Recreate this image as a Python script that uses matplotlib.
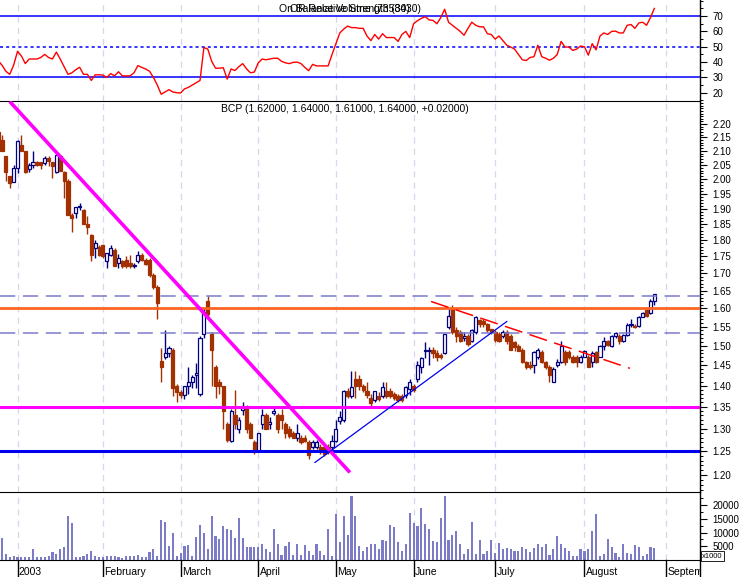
import matplotlib
matplotlib.use('Agg')
import matplotlib.pyplot as plt
import numpy as np
from matplotlib.ticker import FixedLocator, NullFormatter, FuncFormatter, MultipleLocator

plt.rcParams['font.family'] = ['Liberation Sans', 'DejaVu Sans']

# ---------------- data ----------------
opens = [2.17, 2.14, 2.08, 2.01, 1.99, 2.04, 2.12, 2.10, 2.035, 2.05,
         2.06, 2.06, 2.055, 2.075, 2.06, 2.025, 2.08, 2.025, 1.995, 1.88,
         1.885, 1.905, 1.895, 1.85, 1.815, 1.775, 1.78, 1.785, 1.735, 1.755,
         1.77, 1.73, 1.735, 1.74, 1.73, 1.72, 1.735, 1.755, 1.74, 1.74,
         1.695, 1.66, 1.46, 1.47, 1.48, 1.49, 1.40, 1.385, 1.378, 1.398,
         1.41, 1.425, 1.38, 1.53, 1.62, 1.53, 1.445, 1.41, 1.40, 1.31,
         1.273, 1.33, 1.30, 1.343, 1.35, 1.31, 1.27, 1.25, 1.31, 1.33,
         1.31, 1.335, 1.33, 1.33, 1.31, 1.30, 1.29, 1.28, 1.28, 1.28,
         1.27, 1.26, 1.26, 1.26, 1.26, 1.26, 1.26, 1.273, 1.316, 1.32,
         1.386, 1.376, 1.416, 1.415, 1.40, 1.386, 1.37, 1.366, 1.376, 1.376,
         1.387, 1.387, 1.38, 1.376, 1.375, 1.378, 1.393, 1.40, 1.416, 1.446,
         1.485, 1.485, 1.49, 1.48, 1.475, 1.48, 1.55, 1.60, 1.54, 1.535,
         1.52, 1.525, 1.513, 1.535, 1.567, 1.565, 1.556, 1.543, 1.535, 1.53,
         1.524, 1.535, 1.525, 1.51, 1.50, 1.49, 1.458, 1.45, 1.452, 1.472,
         1.483, 1.458, 1.447, 1.41, 1.45, 1.458, 1.483, 1.483, 1.472, 1.47,
         1.458, 1.472, 1.472, 1.458, 1.483, 1.472, 1.50, 1.512, 1.50, 1.525,
         1.525, 1.512, 1.527, 1.555, 1.553, 1.553, 1.576, 1.594, 1.588, 1.62]
highs = [2.22, 2.16, 2.08, 2.01, 2.05, 2.14, 2.16, 2.10, 2.055, 2.10,
         2.065, 2.06, 2.08, 2.08, 2.06, 2.085, 2.085, 2.03, 2.00, 1.885,
         1.905, 1.92, 1.90, 1.875, 1.82, 1.80, 1.785, 1.785, 1.76, 1.785,
         1.775, 1.757, 1.74, 1.75, 1.755, 1.73, 1.765, 1.76, 1.745, 1.745,
         1.70, 1.665, 1.495, 1.54, 1.50, 1.495, 1.405, 1.39, 1.40, 1.445,
         1.425, 1.455, 1.525, 1.60, 1.635, 1.535, 1.45, 1.415, 1.40, 1.315,
         1.345, 1.39, 1.325, 1.36, 1.355, 1.315, 1.275, 1.29, 1.345, 1.335,
         1.325, 1.35, 1.335, 1.345, 1.315, 1.305, 1.295, 1.31, 1.285, 1.285,
         1.275, 1.275, 1.275, 1.265, 1.265, 1.265, 1.285, 1.32, 1.34, 1.39,
         1.395, 1.435, 1.435, 1.425, 1.405, 1.41, 1.38, 1.386, 1.385, 1.41,
         1.41, 1.395, 1.385, 1.38, 1.38, 1.40, 1.415, 1.405, 1.46, 1.47,
         1.51, 1.497, 1.497, 1.49, 1.48, 1.53, 1.60, 1.61, 1.55, 1.54,
         1.535, 1.53, 1.545, 1.58, 1.57, 1.57, 1.56, 1.545, 1.54, 1.535,
         1.54, 1.54, 1.53, 1.513, 1.505, 1.495, 1.46, 1.46, 1.487, 1.495,
         1.49, 1.46, 1.45, 1.445, 1.465, 1.513, 1.49, 1.49, 1.475, 1.475,
         1.475, 1.49, 1.475, 1.486, 1.487, 1.502, 1.522, 1.515, 1.527, 1.535,
         1.53, 1.53, 1.56, 1.57, 1.557, 1.578, 1.59, 1.60, 1.625, 1.64]
lows = [2.14, 2.10, 1.995, 1.97, 1.99, 2.02, 2.10, 2.02, 2.025, 2.04,
        2.045, 2.035, 2.05, 2.045, 2.005, 2.02, 2.03, 1.935, 1.88, 1.825,
        1.87, 1.895, 1.85, 1.82, 1.735, 1.745, 1.75, 1.745, 1.715, 1.75,
        1.72, 1.715, 1.715, 1.715, 1.715, 1.715, 1.73, 1.735, 1.725, 1.69,
        1.655, 1.57, 1.41, 1.465, 1.47, 1.375, 1.36, 1.37, 1.368, 1.38,
        1.395, 1.395, 1.375, 1.52, 1.57, 1.40, 1.37, 1.38, 1.30, 1.27,
        1.27, 1.30, 1.29, 1.33, 1.29, 1.28, 1.245, 1.25, 1.30, 1.30,
        1.30, 1.33, 1.29, 1.30, 1.28, 1.278, 1.278, 1.273, 1.265, 1.27,
        1.233, 1.255, 1.255, 1.245, 1.24, 1.245, 1.25, 1.27, 1.31, 1.315,
        1.37, 1.37, 1.37, 1.39, 1.385, 1.37, 1.352, 1.36, 1.364, 1.37,
        1.37, 1.37, 1.365, 1.36, 1.36, 1.37, 1.378, 1.385, 1.41, 1.43,
        1.468, 1.452, 1.468, 1.46, 1.465, 1.478, 1.545, 1.53, 1.51, 1.51,
        1.513, 1.50, 1.51, 1.53, 1.55, 1.55, 1.535, 1.53, 1.51, 1.51,
        1.52, 1.505, 1.49, 1.487, 1.485, 1.455, 1.44, 1.44, 1.43, 1.465,
        1.455, 1.44, 1.41, 1.408, 1.445, 1.455, 1.45, 1.465, 1.455, 1.447,
        1.455, 1.47, 1.445, 1.447, 1.455, 1.47, 1.49, 1.50, 1.497, 1.52,
        1.505, 1.51, 1.525, 1.55, 1.547, 1.55, 1.575, 1.575, 1.585, 1.61]
closes = [2.14, 2.10, 2.025, 1.985, 2.04, 2.135, 2.10, 2.025, 2.05, 2.06,
          2.05, 2.05, 2.075, 2.065, 2.045, 2.085, 2.03, 1.995, 1.88, 1.87,
          1.905, 1.91, 1.85, 1.84, 1.755, 1.79, 1.755, 1.75, 1.76, 1.775,
          1.72, 1.745, 1.72, 1.72, 1.72, 1.725, 1.755, 1.74, 1.727, 1.695,
          1.66, 1.615, 1.445, 1.48, 1.495, 1.395, 1.385, 1.378, 1.40, 1.41,
          1.42, 1.43, 1.52, 1.59, 1.585, 1.49, 1.40, 1.40, 1.34, 1.275,
          1.34, 1.31, 1.32, 1.35, 1.30, 1.28, 1.25, 1.29, 1.33, 1.30,
          1.315, 1.34, 1.30, 1.32, 1.29, 1.283, 1.28, 1.29, 1.27, 1.273,
          1.242, 1.27, 1.27, 1.25, 1.245, 1.25, 1.273, 1.30, 1.325, 1.386,
          1.376, 1.397, 1.40, 1.40, 1.39, 1.378, 1.359, 1.386, 1.367, 1.397,
          1.376, 1.376, 1.37, 1.365, 1.366, 1.397, 1.41, 1.39, 1.45, 1.468,
          1.49, 1.49, 1.48, 1.47, 1.472, 1.53, 1.58, 1.535, 1.525, 1.513,
          1.525, 1.505, 1.54, 1.576, 1.556, 1.556, 1.54, 1.535, 1.515, 1.512,
          1.535, 1.512, 1.49, 1.497, 1.487, 1.458, 1.447, 1.447, 1.483, 1.49,
          1.458, 1.447, 1.427, 1.44, 1.458, 1.50, 1.458, 1.472, 1.458, 1.458,
          1.47, 1.487, 1.447, 1.48, 1.458, 1.50, 1.513, 1.503, 1.525, 1.532,
          1.512, 1.527, 1.555, 1.558, 1.549, 1.576, 1.588, 1.58, 1.62, 1.64]
volume_k = [1.2, 8.0, 2.2, 1.0, 1.6, 1.0, 1.2, 1.2, 1.2, 4.0,
            1.0, 1.2, 1.0, 1.6, 2.8, 2.2, 4.0, 4.6, 16.0, 13.5,
            1.2, 1.2, 1.6, 2.2, 3.4, 1.6, 1.0, 1.2, 1.6, 1.4,
            1.6, 1.0, 0.6, 1.4, 1.6, 1.4, 1.8, 1.2, 1.0, 3.0,
            4.0, 1.5, 14.5, 14.0, 5.2, 10.0, 1.6, 2.4, 5.0, 5.4,
            1.6, 8.3, 12.8, 10.0, 4.0, 16.0, 8.8, 7.6, 12.5, 11.3,
            11.0, 8.0, 15.2, 8.0, 4.6, 4.6, 4.6, 4.6, 5.8, 4.0,
            3.0, 11.3, 5.8, 2.0, 5.0, 6.4, 2.0, 5.8, 2.0, 5.5,
            3.4, 2.0, 5.8, 3.4, 2.0, 11.3, 1.5, 16.6, 6.4, 16.0,
            9.0, 23.3, 16.0, 5.0, 3.4, 4.6, 5.8, 5.8, 4.0, 7.4,
            7.0, 12.8, 12.0, 6.4, 3.4, 5.8, 17.3, 13.5, 12.5, 18.8,
            13.2, 11.3, 7.0, 6.4, 15.5, 23.3, 7.4, 9.0, 10.5, 5.8,
            2.2, 4.0, 14.0, 2.2, 7.4, 2.2, 3.4, 7.4, 2.6, 6.2,
            4.0, 4.2, 4.0, 3.4, 3.4, 4.6, 4.0, 2.8, 4.2, 5.8,
            4.6, 5.8, 2.0, 4.0, 8.8, 5.8, 4.2, 3.4, 1.6, 1.6,
            4.0, 3.4, 4.0, 10.5, 16.6, 1.6, 2.2, 7.6, 4.6, 2.6,
            1.0, 5.8, 2.6, 2.2, 5.6, 4.6, 1.6, 2.2, 4.6, 4.2]
rsi = [41, 38, 34, 32, 38, 47, 44, 39, 42, 42,
       42, 43, 45, 43, 42, 46.5, 42, 37, 32, 33,
       35, 36.6, 32, 32, 28, 31.7, 31.7, 31.5, 30, 32.5,
       31, 33.7, 31, 31, 31, 33, 37.7, 36.5, 35.5, 34,
       30, 25, 19, 20.5, 22, 20.5, 20, 19.8, 22.5, 23.5,
       25, 26.5, 28, 49.5, 48.5, 40.5, 36, 36, 36.3, 28.9,
       35.5, 34.5, 37, 39, 35.5, 33, 33.5, 39.5, 42, 41.5,
       42, 42.5, 42.5, 40.5, 39.5, 39, 39.8, 40, 39, 36.5,
       34.4, 38.5, 37.5, 37.5, 37.5, 37.5, 45, 52, 59, 61.5,
       63.5, 62.5, 62.5, 62, 62, 57, 54, 58, 55, 58.5,
       56, 56, 56, 53.5, 58, 60, 56, 65, 67, 68.5,
       69.6, 67.5, 67.2, 65, 69, 74.5, 66, 64, 62, 60,
       57.5, 62, 66, 64, 63, 63, 58.5, 58, 55, 57,
       54, 51, 49.8, 48.5, 45, 41.5, 41, 43, 43.5, 51,
       43.5, 42.5, 41.2, 42.5, 45, 53.5, 49.8, 49.8, 47.6, 48.5,
       50.5, 50, 44.5, 52, 48, 57, 59, 58, 60, 60.2,
       59, 59, 64, 64.5, 62, 65.5, 66, 64, 69, 75]

month_labels = ["2003", "February", "March", "April", "May", "June", "July", "August", "September"]
month_start_idx = [5, 27, 47, 67, 87, 107, 128, 151, 172]

support_levels = [1.25, 1.35]
resistance_level = 1.60
channel_levels = [1.633, 1.532]
down_trend_x, down_trend_y = [3.0, 90.6], [2.287, 1.205]
up_trend_x, up_trend_y = [81.6, 131.0], [1.226, 1.564]
red_trend_x, red_trend_y = [111.5, 162.7], [1.619, 1.4425]

title_main = "BCP (1.62000, 1.64000, 1.61000, 1.64000, +0.02000)"
title_rsi_a = "OR Relative Strength (30)"
title_rsi_b = "On Balance Volume (7358430)"

# ---------------- layout ----------------
W, H = 742, 577
fig = plt.figure(figsize=(W / 100, H / 100), dpi=100)
fig.patch.set_facecolor('white')


def rect(x0, y0, x1, y1):
    return [x0 / W, 1 - y1 / H, (x1 - x0) / W, (y1 - y0) / H]


ax_rsi = fig.add_axes(rect(0, 0, 700, 101))
ax = fig.add_axes(rect(0, 101, 700, 492))
ax_vol = fig.add_axes(rect(0, 492, 700, 560))
ax_lab = fig.add_axes(rect(0, 560, 700, 577))

XL = (0.49, 180.76)
for a in (ax_rsi, ax, ax_vol, ax_lab):
    a.set_xlim(*XL)
    a.set_facecolor('white')

grid_col = '#D6D6EE'
for a in (ax_rsi, ax, ax_vol):
    for m in month_start_idx:
        a.axvline(m, color=grid_col, lw=0.9, dashes=(5, 4), zorder=0)
    a.set_xticks([])
    for s in ('left', 'bottom', 'top'):
        a.spines[s].set_visible(False)
    a.spines['right'].set_visible(True)
    a.spines['right'].set_linewidth(1.0)
    a.yaxis.tick_right()
    a.tick_params(axis='y', which='major', length=5, width=0.8, direction='out',
                  labelsize=7, pad=4, colors='black')
    a.tick_params(axis='y', which='minor', length=2.5, width=0.7, direction='out')

ax.spines['top'].set_visible(True)
ax_vol.spines['top'].set_visible(True)
ax_vol.spines['bottom'].set_visible(True)

# ---------------- RSI panel ----------------
idx = np.arange(len(closes))
ax_rsi.plot(np.arange(len(rsi)), rsi, color='#FF0000', lw=1.0, zorder=3)
ax_rsi.axhline(70, color='#0000FF', lw=1.1, zorder=2)
ax_rsi.axhline(30, color='#0000FF', lw=1.1, zorder=2)
ax_rsi.axhline(50, color='#0000FF', lw=1.1, dashes=(2, 2), zorder=2)
ax_rsi.set_ylim(14.6, 80.5)
ax_rsi.yaxis.set_major_locator(FixedLocator([20, 30, 40, 50, 60, 70]))
ax_rsi.yaxis.set_minor_locator(MultipleLocator(5))
ax_rsi.yaxis.set_major_formatter(FuncFormatter(lambda v, p: f"{v:.0f}"))

# ---------------- main price panel ----------------
ax.set_yscale('log')
ax.set_ylim(1.165, 2.289)
o = np.array(opens); c = np.array(closes); h = np.array(highs); l = np.array(lows)
up = c >= o
up_col = '#000080'
dn_col = '#A33000'
wick_cols = [up_col if u else dn_col for u in up]
ax.vlines(idx, l, h, colors=wick_cols, lw=1.0, zorder=2)
body_bottom = np.minimum(o, c)
body_h = np.maximum(np.abs(c - o), 0.002)
ax.bar(idx[up], body_h[up], bottom=body_bottom[up], width=0.8,
       facecolor='white', edgecolor=up_col, linewidth=0.9, zorder=3)
ax.bar(idx[~up], body_h[~up], bottom=body_bottom[~up], width=0.8,
       facecolor=dn_col, edgecolor=dn_col, linewidth=0.9, zorder=3)

for lev in channel_levels:
    ax.axhline(lev, color='#7A7ACB', lw=1.1, dashes=(10, 5), zorder=4)
ax.axhline(resistance_level, color='#FF6420', lw=2.0, zorder=5)
ax.axhline(support_levels[1], color='#FF00FF', lw=2.2, zorder=5)
ax.axhline(support_levels[0], color='#0000EE', lw=2.2, zorder=5)
ax.plot(down_trend_x, down_trend_y, color='#FF00FF', lw=2.6, zorder=6,
        solid_capstyle='butt')
ax.plot(up_trend_x, up_trend_y, color='#0000EE', lw=0.9, zorder=6)
ax.plot(red_trend_x, red_trend_y, color='#FF0000', lw=1.1, dashes=(12, 5), zorder=6)

major_p = [round(1.20 + 0.05 * k, 2) for k in range(21)]
minor_p = [round(1.17 + 0.01 * k, 2) for k in range(112)]
ax.yaxis.set_major_locator(FixedLocator(major_p))
ax.yaxis.set_minor_locator(FixedLocator(minor_p))
ax.yaxis.set_major_formatter(FuncFormatter(lambda v, p: f"{v:.2f}"))
ax.yaxis.set_minor_formatter(NullFormatter())

# ---------------- volume panel ----------------
ax_vol.bar(np.arange(len(volume_k)), volume_k, width=0.55, color='#7B7BC8', zorder=3)
ax_vol.set_ylim(0, 24.8)
ax_vol.yaxis.set_major_locator(FixedLocator([5, 10, 15, 20]))
ax_vol.yaxis.set_minor_locator(MultipleLocator(2.5))
ax_vol.yaxis.set_major_formatter(FuncFormatter(lambda v, p: f"{v * 1000:.0f}"))

# ---------------- month labels ----------------
ax_lab.set_ylim(0, 1)
ax_lab.axis('off')
for m, lab in zip(month_start_idx, month_labels):
    ax_lab.plot([m, m], [0, 1], color='black', lw=1.0, clip_on=False)
    ax_lab.text(m + 0.35, 0.3, lab, ha='left', va='center', fontsize=7.5,
                color='black', clip_on=True)

# right axis line through the label row
fig.add_artist(plt.Line2D([700 / W, 700 / W], [0, 17 / H], color='black', lw=1.0,
                          transform=fig.transFigure))

# ---------------- texts ----------------
fig.text(350 / W, 1 - 9 / H, title_rsi_a, ha='center', va='center', fontsize=7.5)
fig.text(350 / W, 1 - 9 / H, title_rsi_b, ha='center', va='center', fontsize=7.5)
fig.text(345 / W, 1 - 109 / H, title_main, ha='center', va='center', fontsize=7.5)
fig.text(702 / W, 1 - 556 / H, 'x1000', ha='left', va='center', fontsize=5.5,
         bbox=dict(facecolor='white', edgecolor='black', lw=0.6, pad=0.8))

fig.savefig('out.png', dpi=100, facecolor='white')
